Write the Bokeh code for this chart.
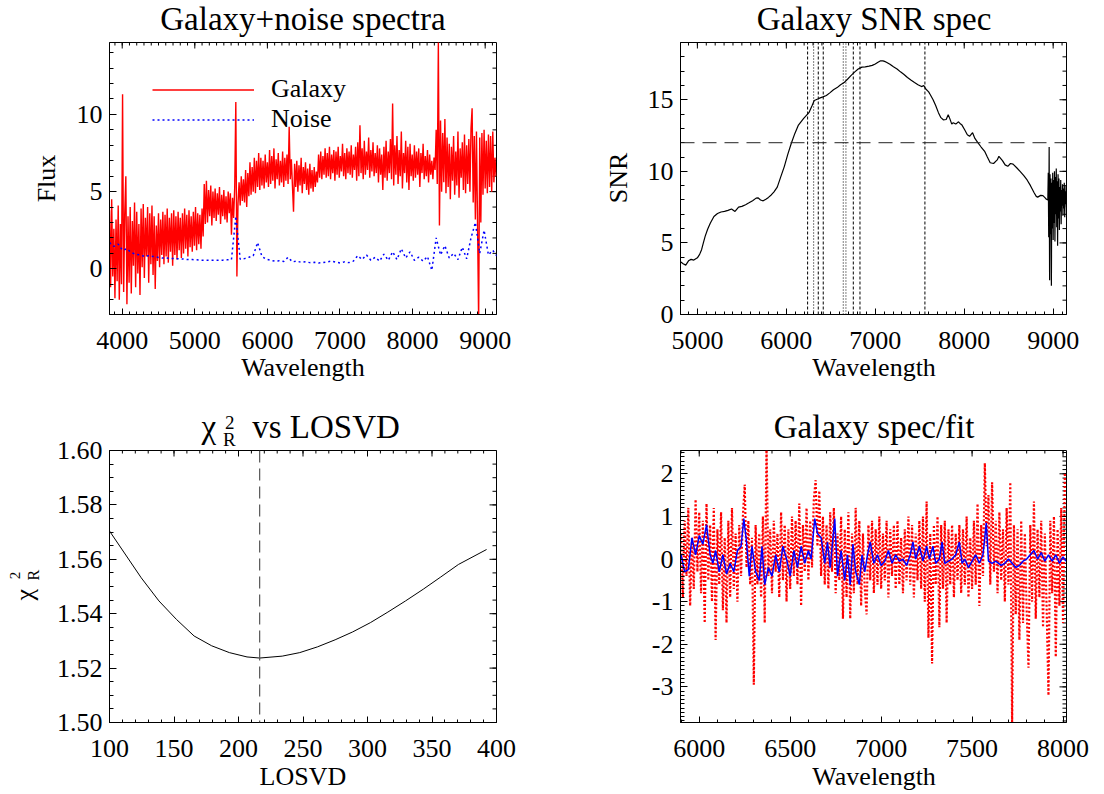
import numpy as np
from bokeh.plotting import figure
from bokeh.layouts import gridplot, column
from bokeh.models import FixedTicker, Label, Span, Legend, LegendItem, Range1d
from bokeh.embed import file_html
from bokeh.resources import INLINE

FONT = "Liberation Serif"
TICK_FS = "26px"
LABEL_FS = "26px"
TITLE_FS = "33px"

# ---------------- Panel 1 : galaxy + noise spectra ----------------
galaxy_wave = np.arange(3825, 9151, 15)
galaxy_flux = [
    3.8, -1.2, 4.5, -0.5, 2.6, -1.9, 3.2, -0.8, 4.1, -2.0,
    2.9, -1.0, 11.3, -1.5, 3.6, 6.0, -2.3, 3.4, -0.9, 4.0,
    -1.6, 3.1, 0.2, 4.3, -1.2, 3.7, -0.3, 2.9, -1.7, 3.9,
    0.1, 4.2, -0.6, 3.3, 0.8, 4.0, -0.9, 3.6, 0.3, 4.1,
    -0.4, 3.4, -1.3, 2.8, 0.5, 3.6, 0.1, 3.2, 0.9, 3.7,
    0.3, 3.5, 0.8, 3.9, 0.4, 3.3, 1.1, 3.6, 0.2, 3.8,
    0.9, 3.4, 0.6, 3.7, 1.2, 3.3, 0.7, 3.6, 1.0, 3.9,
    1.3, 3.5, 0.8, 3.8, 1.4, 3.4, 1.1, 3.7, 1.5, 4.0,
    1.2, 3.6, 1.6, 3.5, 1.3, 3.9, 2.1, 5.5, 2.9, 5.7,
    3.0, 5.1, 3.4, 5.4, 2.8, 5.0, 3.3, 5.2, 3.1, 4.9,
    3.5, 5.3, 2.9, 4.8, 3.4, 5.1, 3.2, 4.7, 3.0, 5.0,
    3.6, 4.9, 2.2, 4.6, 3.3, 5.3, 10.8, -0.5, 4.2, 5.6,
    4.1, 6.0, 4.4, 5.8, 4.3, 6.4, 4.0, 6.2, 4.7, 6.9,
    4.8, 6.6, 5.0, 7.2, 4.9, 7.0, 5.3, 7.5, 5.1, 7.2,
    5.4, 7.0, 5.2, 7.4, 5.6, 6.9, 5.3, 7.7, 5.5, 7.3,
    5.7, 7.8, 5.2, 7.1, 5.8, 7.5, 5.4, 7.0, 5.6, 7.6,
    5.3, 7.2, 5.7, 7.4, 5.5, 9.2, 5.8, 7.1, 5.4, 3.7,
    6.8, 5.3, 7.0, 5.0, 6.7, 5.4, 7.2, 4.9, 6.6, 5.5,
    6.9, 5.1, 6.5, 4.8, 6.8, 5.2, 6.4, 5.0, 6.6, 5.3,
    6.3, 5.6, 7.4, 5.9, 7.6, 5.8, 7.3, 6.1, 7.8, 5.9,
    7.5, 6.0, 7.9, 5.8, 7.4, 6.2, 7.7, 5.7, 7.6, 6.1,
    7.9, 5.9, 7.3, 6.3, 8.1, 6.0, 7.5, 5.8, 7.8, 6.2,
    7.6, 6.1, 8.0, 5.9, 7.4, 6.4, 7.9, 5.7, 8.2, 6.0,
    9.3, 6.2, 7.8, 5.8, 8.3, 6.1, 7.6, 6.4, 8.5, 5.9,
    7.7, 6.3, 8.2, 6.0, 7.5, 6.2, 8.0, 5.6, 7.8, 6.1,
    7.4, 5.1, 7.9, 5.9, 8.3, 5.7, 7.6, 6.2, 8.4, 5.8,
    10.7, 5.4, 8.0, 6.1, 8.6, 5.5, 7.7, 6.0, 8.9, 5.2,
    7.5, 6.2, 8.3, 5.6, 7.9, 5.1, 8.1, 6.0, 7.4, 5.7,
    8.0, 5.9, 7.6, 6.1, 7.8, 5.3, 7.5, 6.2, 8.1, 5.8,
    7.3, 6.0, 7.7, 5.6, 7.4, 6.1, 7.0, 5.8, 7.2, 6.4,
    9.0, 5.5, 14.7, 2.8, 9.6, 5.0, 8.8, 5.6, 9.7, 4.9,
    8.5, 5.3, 8.1, 4.5, 7.9, 5.7, 8.6, 4.8, 7.6, 5.4,
    8.9, 4.6, 7.8, 5.9, 8.2, 5.1, 8.7, 4.9, 8.0, 5.5,
    8.4, 5.0, 9.1, 10.4, 4.3, 8.6, 3.2, 8.9, 2.9, -3.5,
    8.5, 3.0, 8.8, 4.8, 9.0, 5.2, 8.3, 4.9, 8.7, 5.3,
    8.6, 5.0, 8.9, 5.6, 7.2, 6.0,
]
noise_wave = np.arange(3825, 9166, 60)
noise_flux = [
    1.7, 1.45, 1.6, 1.2, 1.3, 1.05, 0.95, 0.9, 0.8, 0.85,
    0.8, 0.75, 0.7, 0.7, 0.68, 0.66, 0.65, 0.63, 0.6, 0.6,
    0.58, 0.56, 0.56, 0.55, 0.56, 0.55, 0.56, 0.58, 0.6, 3.4,
    0.62, 0.66, 0.75, 0.85, 1.7, 0.8, 0.62, 0.55, 0.5, 0.52,
    0.48, 0.75, 0.45, 0.5, 0.42, 0.45, 0.4, 0.42, 0.38, 0.4,
    0.45, 0.5, 0.42, 0.38, 0.45, 0.4, 0.5, 0.85, 0.6, 0.9,
    0.55, 0.75, 0.5, 0.95, 0.55, 1.1, 0.6, 1.3, 0.7, 1.1,
    0.55, 0.75, 0.5, 0.8, -0.1, 2.0, 0.9, 1.5, 0.7, 1.0,
    0.6, 1.4, 0.65, 2.0, 3.0, 1.0, 2.5, 0.9, 1.2, 0.8,
]

# ---------------- Panel 2 : SNR spectrum ----------------
snr_wave = [
    4810, 4840, 4869, 4900, 4929, 4960, 5000, 5025, 5047, 5067,
    5087, 5115, 5146, 5186, 5226, 5265, 5305, 5344, 5384, 5423,
    5463, 5500, 5542, 5580, 5621, 5660, 5681, 5710, 5740, 5770,
    5799, 5830, 5859, 5898, 5938, 5977, 6017, 6056, 6096, 6136,
    6195, 6254, 6290, 6314, 6353, 6380, 6412, 6450, 6492, 6530,
    6571, 6610, 6650, 6690, 6729, 6770, 6808, 6850, 6887, 6930,
    6966, 7000, 7026, 7060, 7085, 7105, 7125, 7165, 7204, 7245,
    7283, 7320, 7362, 7400, 7441, 7480, 7520, 7545, 7568, 7600,
    7619, 7650, 7679, 7710, 7738, 7765, 7797, 7820, 7837, 7860,
    7876, 7905, 7936, 7960, 7975, 8005, 8035, 8060, 8094, 8120,
    8153, 8190, 8232, 8260, 8292, 8330, 8371, 8390, 8430, 8460,
    8490, 8520, 8549, 8590, 8628, 8670, 8707, 8745, 8786, 8810,
    8826, 8860, 8885, 8910, 8924, 8940,
    8945, 8950, 8955, 8960, 8965, 8970, 8975, 8980, 8985, 8990,
    8995, 9000, 9005, 9010, 9015, 9020, 9025, 9030, 9035, 9040,
    9045, 9050, 9055, 9060, 9065, 9070, 9075, 9080, 9085, 9090,
    9095, 9100, 9105, 9110, 9115, 9120, 9125, 9130, 9135, 9140,
    9145, 9150,
]
snr_value = [
    3.68, 3.55, 3.45, 3.75, 3.85, 3.80, 3.96, 4.2, 4.53, 5.0,
    5.46, 5.95, 6.39, 6.85, 7.05, 7.16, 7.2, 7.27, 7.37, 7.20,
    7.50, 7.55, 7.67, 7.8, 7.95, 8.13, 8.15, 8.0, 7.94, 8.05,
    8.18, 8.35, 8.55, 8.9, 9.63, 10.33, 11.2, 11.96, 12.65, 13.23,
    13.70, 14.1, 14.6, 14.95, 15.05, 15.13, 15.2, 15.3, 15.5, 15.7,
    15.85, 16.05, 16.2, 16.45, 16.7, 16.95, 17.15, 17.28, 17.30, 17.35,
    17.4, 17.5, 17.6, 17.72, 17.72, 17.68, 17.62, 17.48, 17.3, 17.15,
    16.95, 16.78, 16.55, 16.38, 16.2, 16.05, 15.92, 16.0, 15.75, 15.55,
    15.35, 15.0, 14.6, 14.1, 13.75, 13.6, 13.62, 13.95, 13.7, 13.3,
    13.4, 13.3, 13.46, 13.3, 13.23, 12.9, 12.55, 12.45, 12.7, 12.3,
    12.0, 11.7, 11.37, 11.0, 10.6, 10.55, 10.8, 11.05, 10.75, 10.45,
    10.35, 10.55, 10.5, 10.25, 10.0, 9.7, 9.4, 9.0, 8.5, 8.25,
    8.20, 8.32, 8.30, 8.15, 8.05, 8.0,
    9.9, 5.4, 11.7, 2.4, 9.8, 5.6, 9.5, 2.0, 9.2, 6.0,
    9.9, 5.2, 9.4, 6.4, 10.0, 5.1, 9.6, 7.0, 10.2, 6.1,
    9.3, 4.8, 9.8, 6.7, 9.5, 5.9, 8.9, 7.2, 9.4, 6.3,
    8.7, 7.6, 9.1, 6.9, 8.8, 7.4, 9.2, 6.8, 8.6, 7.7,
    9.0, 7.5,
]
snr_threshold = 12
feature_dash_wave = [6239, 6359, 6415, 6753, 6828, 7558]
feature_dot_wave = [6307, 6640, 6670]

# ---------------- Panel 3 : chi2 vs LOSVD ----------------
losvd = [100, 124.6, 138.3, 151.9, 165.6, 179.2, 192.9, 206.6, 216.4, 233.9,
         247.5, 261.2, 274.9, 288.5, 302.2, 315.8, 329.5, 343.2, 356.8, 370.5, 392.3]
chi2r = [1.5704, 1.5532, 1.5447, 1.5379, 1.5318, 1.5282, 1.5257, 1.5241, 1.5237, 1.5244,
         1.5257, 1.5278, 1.5304, 1.5333, 1.5367, 1.5406, 1.5447, 1.5490, 1.5535, 1.5581, 1.5636]
losvd_best = 216.4

# ---------------- Panel 4 : galaxy spec / fit ----------------
resid_wave = np.arange(5900, 8011, 10)
resid_flux = [
    0.6, -0.9, 0.9, -0.4, 1.2, -1.1, 0.5, -0.7, 1.4, -0.3,
    1.1, -0.8, 0.9, -1.5, 1.3, -0.5, 0.8, -1.0, 1.2, -1.9,
    0.7, -0.6, 1.1, -1.2, 0.5, -1.5, 0.9, -0.9, 1.2, -0.7,
    0.6, -1.0, 0.8, -0.4, 1.0, 1.75, -0.2, 0.9, -0.6, 0.5,
    -2.95, 0.8, -0.6, 0.6, -0.9, 1.0, -1.5, 2.7, -0.4, 0.7,
    -0.8, 0.9, -0.3, 0.6, -0.9, 1.1, -0.5, 0.8, -1.0, 0.7,
    -0.7, 1.0, -0.4, 0.9, -0.6, 1.3, -1.1, 0.8, -0.3, 1.2,
    -0.5, 0.9, -0.2, 1.4, 1.85, 0.3, 1.6, -0.4, 1.0, -0.6,
    0.8, -0.7, 1.1, -0.3, 1.2, -0.8, 0.6, -0.5, 1.0, -1.4,
    0.7, -0.9, 1.1, -1.4, 0.6, -0.8, 1.2, -0.6, 0.9, -1.1,
    0.6, -0.7, -1.3, 0.8, -0.5, 0.9, -0.8, 0.7, -0.6, 1.0,
    -0.7, 0.6, -0.5, 0.9, -0.9, 0.7, -0.4, 0.8, -0.7, 0.9,
    -0.6, 0.5, -0.8, 0.7, -0.5, 1.0, -0.6, 0.8, -0.9, 0.6,
    -0.5, 0.9, -0.7, 1.0, -1.0, 1.35, -1.85, 0.6, -2.45, 0.8,
    -0.6, 1.0, -1.6, 0.8, -0.7, 0.9, -1.5, 0.7, -0.6, 0.8,
    -0.9, 0.6, -0.5, 0.8, -0.8, 0.7, -0.6, 1.0, -0.9, 0.5,
    -0.7, 0.9, -0.6, 1.3, -1.1, 0.8, -0.4, 2.25, 0.3, 1.5,
    -0.6, 1.8, -0.3, 0.9, -0.8, 1.1, -0.5, 0.7, -1.0, 1.2,
    -0.6, 1.8, -3.9, 0.8, -1.3, 0.7, -1.9, 0.9, -1.5, 0.6,
    -1.2, -2.55, 0.8, -1.0, 1.35, -1.4, 0.7, -0.9, 0.9, -1.6,
    0.6, -1.2, -3.2, 0.9, -0.8, 1.0, -2.3, 0.7, -1.1, 1.2,
    -1.5, 2.0,
]
fit_wave = [
    5900, 5920, 5940, 5960, 5980, 6000, 6020, 6040, 6060, 6075,
    6090, 6110, 6130, 6150, 6170, 6190, 6210, 6230, 6245, 6260,
    6275, 6290, 6310, 6330, 6345, 6360, 6380, 6400, 6420, 6440,
    6460, 6480, 6500, 6520, 6540, 6560, 6580, 6600, 6615, 6635,
    6650, 6670, 6690, 6705, 6720, 6745, 6760, 6780, 6800, 6815,
    6830, 6845, 6860, 6880, 6895, 6910, 6925, 6940, 6960, 6980,
    7000, 7020, 7040, 7060, 7080, 7100, 7120, 7140, 7160, 7175,
    7190, 7210, 7230, 7250, 7265, 7285, 7300, 7320, 7335, 7350,
    7370, 7390, 7410, 7430, 7445, 7460, 7480, 7500, 7520, 7540,
    7560, 7578, 7590, 7610, 7630, 7660, 7680, 7700, 7720, 7740,
    7760, 7780, 7800, 7820, 7840, 7860, 7880, 7900, 7920, 7940,
    7960, 7980, 8000, 8015,
]
fit_flux = [
    0.1, -0.3, -0.25, 0.5, 0.1, 0.55, 0.35, 0.8, 0.1, -0.1,
    0.2, -0.3, 0.1, -0.35, -0.1, -0.3, 0.2, 0.3, 0.95, 0.4,
    -0.4, 0.3, -0.3, -0.5, 0.3, -0.6, -0.2, -0.4, 0.1, -0.3,
    0.3, 0.0, -0.4, 0.2, -0.2, 0.3, -0.1, 0.2, 0.0, 0.95,
    0.6, 0.5, -0.1, 0.4, -0.2, 0.95, -0.4, 0.2, -0.5, 0.1,
    -0.6, 0.35, -0.3, -0.6, 0.1, -0.3, 0.1, 0.4, -0.1, 0.1,
    -0.15, -0.05, 0.2, -0.1, 0.1, -0.05, 0.0, -0.15, 0.1, 0.4,
    0.0, 0.3, -0.05, 0.3, 0.0, 0.3, -0.1, 0.0, 0.4, -0.1,
    -0.05, 0.0, 0.1, 0.4, -0.1, 0.0, -0.2, -0.05, 0.1, -0.1,
    0.1, 0.85, -0.05, -0.1, -0.05, -0.15, -0.1, 0.0, -0.1, -0.2,
    -0.15, -0.05, 0.0, 0.1, 0.2, 0.0, 0.15, -0.05, 0.1, -0.05,
    0.1, -0.1, 0.05, -0.05,
]

# ---------------- axis tick definitions ----------------
p1_xticks = [4000, 5000, 6000, 7000, 8000, 9000]
p1_xlabels = ["4000", "5000", "6000", "7000", "8000", "9000"]
p1_yticks = [0, 5, 10]
p1_ylabels = ["0", "5", "10"]
p2_xticks = [5000, 6000, 7000, 8000, 9000]
p2_xlabels = ["5000", "6000", "7000", "8000", "9000"]
p2_yticks = [0, 5, 10, 15]
p2_ylabels = ["0", "5", "10", "15"]
p3_xticks = [100, 150, 200, 250, 300, 350, 400]
p3_xlabels = ["100", "150", "200", "250", "300", "350", "400"]
p3_yticks = [1.50, 1.52, 1.54, 1.56, 1.58, 1.60]
p3_ylabels = ["1.50", "1.52", "1.54", "1.56", "1.58", "1.60"]
p4_xticks = [6000, 6500, 7000, 7500, 8000]
p4_xlabels = ["6000", "6500", "7000", "7500", "8000"]
p4_yticks = [-3, -2, -1, 0, 1, 2]
p4_ylabels = ["-3", "-2", "-1", "0", "1", "2"]


def style_axis(ax, ticks, minor, labels, major_len, minor_len, standoff):
    ax.ticker = FixedTicker(ticks=ticks, minor_ticks=list(minor))
    ax.major_tick_in = major_len
    ax.major_tick_out = 0
    ax.minor_tick_in = minor_len
    ax.minor_tick_out = 0
    ax.axis_line_color = "black"
    ax.major_tick_line_color = "black"
    ax.minor_tick_line_color = "black"
    ax.major_label_overrides = {t: l for t, l in zip(ticks, labels)}
    ax.major_label_text_font = FONT
    ax.major_label_text_font_size = TICK_FS
    ax.major_label_text_color = "black"
    ax.major_label_standoff = standoff


def mirror_ticks(p, xr, yr, xt, xminor, yt, yminor):
    # ticks on the top and right edges of the box, pointing inward
    p.ray(x=list(xt), y=[yr[1]] * len(xt), length=6, length_units="screen",
          angle=-np.pi / 2, line_color="black", line_width=1)
    p.ray(x=list(xminor), y=[yr[1]] * len(xminor), length=3, length_units="screen",
          angle=-np.pi / 2, line_color="black", line_width=1)
    p.ray(x=[xr[1]] * len(yt), y=list(yt), length=7, length_units="screen",
          angle=np.pi, line_color="black", line_width=1)
    p.ray(x=[xr[1]] * len(yminor), y=list(yminor), length=4, length_units="screen",
          angle=np.pi, line_color="black", line_width=1)


def make_fig(xr, yr, left, right, top, bottom, xt, xminor, xl, yt, yminor, yl):
    p = figure(width=552, height=397, x_range=xr, y_range=yr,
               output_backend="svg", toolbar_location=None,
               min_border_left=left, min_border_right=right,
               min_border_top=top, min_border_bottom=bottom)
    p.xgrid.visible = False
    p.ygrid.visible = False
    p.outline_line_color = "black"
    p.background_fill_color = "white"
    p.border_fill_color = "white"
    style_axis(p.xaxis[0], xt, xminor, xl, 6, 3, 17)
    style_axis(p.yaxis[0], yt, yminor, yl, 7, 4, 7)
    mirror_ticks(p, xr, yr, xt, xminor, yt, yminor)
    return p


HALF_PI = np.pi / 2

# ---- Panel 1
p1_xr, p1_yr = (3825, 9156), (-2.96, 14.66)
p1 = make_fig(p1_xr, p1_yr, 109, 56, 42, 83,
              p1_xticks, np.arange(3900, 9200, 100), p1_xlabels,
              p1_yticks, np.arange(-2, 15, 1), p1_ylabels)
r_gal = p1.line(galaxy_wave, galaxy_flux, line_color="#ff0000", line_width=1.4)
r_noise = p1.line(noise_wave, noise_flux, line_color="#0000ff", line_width=1.5, line_dash="2 3")
legend = Legend(items=[LegendItem(label="Galaxy", renderers=[r_gal]),
                       LegendItem(label="Noise", renderers=[r_noise])],
                location=(43, 180), padding=0, margin=0, spacing=-7,
                glyph_width=102, glyph_height=27, label_height=27, label_standoff=17,
                label_text_font=FONT, label_text_font_size=LABEL_FS,
                label_text_color="black",
                border_line_alpha=0, background_fill_alpha=0)
p1.add_layout(legend)

# ---- Panel 2
p2_xr, p2_yr = (4810, 9150), (0, 19)
p2 = make_fig(p2_xr, p2_yr, 128, 38, 42, 83,
              p2_xticks, np.arange(4900, 9200, 100), p2_xlabels,
              p2_yticks, np.arange(0, 20, 1), p2_ylabels)
p2.segment(x0=feature_dash_wave, y0=[p2_yr[0]] * len(feature_dash_wave),
           x1=feature_dash_wave, y1=[p2_yr[1]] * len(feature_dash_wave),
           line_color="black", line_width=1, line_dash="3 2")
p2.segment(x0=feature_dot_wave, y0=[p2_yr[0]] * len(feature_dot_wave),
           x1=feature_dot_wave, y1=[p2_yr[1]] * len(feature_dot_wave),
           line_color="black", line_width=1, line_dash="1 2")
p2.add_layout(Span(location=snr_threshold, dimension="width", line_color="#222222",
                   line_width=1, line_dash="14 8"))
p2.line(snr_wave, snr_value, line_color="black", line_width=1.2)

# ---- Panel 3
p3_xr, p3_yr = (100, 400), (1.50, 1.60)
p3 = make_fig(p3_xr, p3_yr, 109, 56, 53, 72,
              p3_xticks, np.arange(100, 401, 10), p3_xlabels,
              p3_yticks, np.round(np.arange(300, 321) * 0.005, 3), p3_ylabels)
p3.add_layout(Span(location=losvd_best, dimension="height", line_color="#555555",
                   line_width=1.2, line_dash="12 6"))
p3.line(losvd, chi2r, line_color="black", line_width=1)

# ---- Panel 4
p4_xr, p4_yr = (5897, 8019), (-3.836, 2.547)
p4 = make_fig(p4_xr, p4_yr, 128, 38, 53, 72,
              p4_xticks, np.arange(5900, 8100, 100), p4_xlabels,
              p4_yticks, np.round(np.arange(-38, 26) * 0.1, 1), p4_ylabels)
p4.line(resid_wave, resid_flux, line_color="#ff0000", line_width=2.2, line_dash="2 2")
p4.line(fit_wave, fit_flux, line_color="#0000ff", line_width=1.5)

grid = gridplot([[p1, p2], [p3, p4]], toolbar_location=None)

# ---- transparent text layer over the whole page (titles and axis titles)
W, H = 1104, 794
ov = figure(width=W, height=H, x_range=Range1d(0, W), y_range=Range1d(H, 0),
            output_backend="svg", toolbar_location=None,
            x_axis_type=None, y_axis_type=None, min_border=0)
ov.xgrid.visible = False
ov.ygrid.visible = False
ov.outline_line_color = None
ov.background_fill_color = None
ov.border_fill_color = None
ov.margin = (-H, 0, 0, 0)

MID = 0.3375  # distance from alphabetic baseline to the middle of the em box, in em


def add_text(text, x, base, size_px, align="center", angle=0.0):
    # place a text by its baseline; anchor sits at the middle of the em box
    off = MID * size_px
    if angle == 0.0:
        ax, ay = x, base - off
    else:
        ax, ay = base - off, x
    ov.add_layout(Label(x=ax, y=ay, text=text, text_font=FONT, text_font_size=f"{size_px}px",
                        text_align=align, text_baseline="middle", angle=angle,
                        text_color="black"))


add_text("Galaxy+noise spectra", 302.4, 29.5, 33)
add_text("Flux", 178, 54.6, 26, angle=HALF_PI)
add_text("Wavelength", 302.4, 376, 26)

add_text("Galaxy SNR spec", 873.6, 29.5, 33)
add_text("SNR", 177.5, 626.7, 26, angle=HALF_PI)
add_text("Wavelength", 873.6, 376, 26)

add_text("\u03c7", 201, 437.5, 33, align="left")
add_text("2", 224.6, 428, 19, align="left")
add_text("R", 222.5, 445, 19, align="left")
add_text("vs LOSVD", 251.7, 437.5, 33, align="left")
add_text("\u03c7", 600, 33, 26, align="left", angle=HALF_PI)
add_text("2", 578.7, 19.4, 15, align="left", angle=HALF_PI)
add_text("R", 580, 38.7, 16, align="left", angle=HALF_PI)
add_text("LOSVD", 302.4, 785, 26)

add_text("Galaxy spec/fit", 873.6, 437.5, 33)
add_text("Wavelength", 873.6, 785, 26)

assert len(galaxy_flux) == len(galaxy_wave)
assert len(noise_flux) == len(noise_wave)
assert len(snr_value) == len(snr_wave)
assert len(resid_flux) == len(resid_wave)
assert len(fit_flux) == len(fit_wave)
assert len(chi2r) == len(losvd)

page = column(grid, ov)
open("out.html", "w").write(file_html(page, INLINE))
